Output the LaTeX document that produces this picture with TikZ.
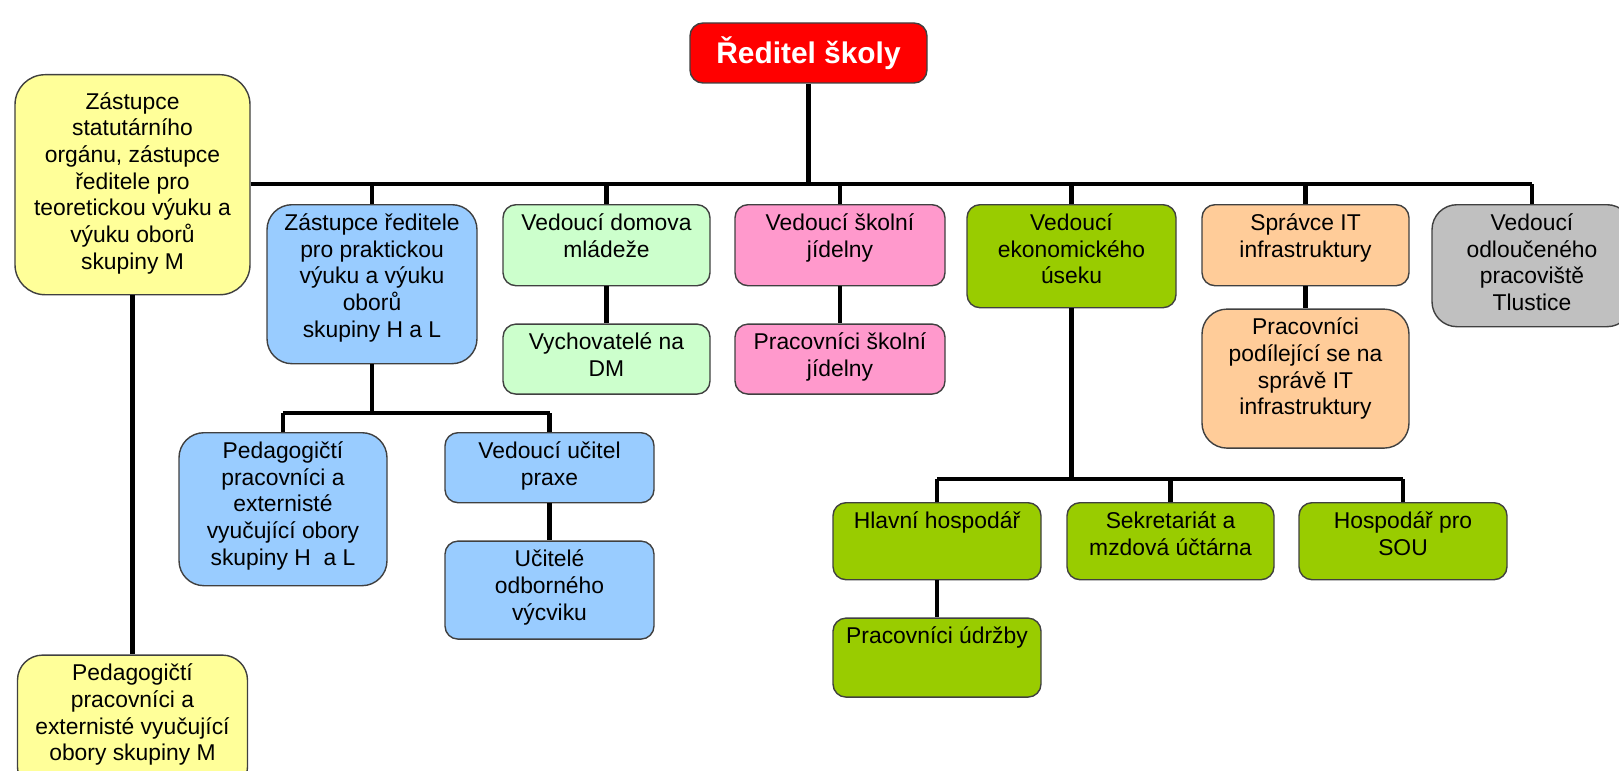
\documentclass[tikz,border=0pt]{standalone}
\usepackage{fontspec}
\setmainfont{Liberation Sans}
\usetikzlibrary{positioning}
\definecolor{headred}{HTML}{FF0000}
\definecolor{pale}{HTML}{FFFF99}
\definecolor{sky}{HTML}{99CCFF}
\definecolor{mint}{HTML}{CCFFCC}
\definecolor{rose}{HTML}{FF99CC}
\definecolor{econ}{HTML}{99CC00}
\definecolor{peach}{HTML}{FFCC99}
\definecolor{silver}{HTML}{C0C0C0}
\newcommand{\boxfont}{\fontsize{13}{15.2}\selectfont}
\tikzset{
  box/.style={draw=black!75,line width=0.8pt,rounded corners=0.26cm,inner sep=0pt,anchor=north,font=\boxfont},
  tall/.style={rounded corners=0.5cm},
  boxsize/.style 2 args={minimum width=#1,minimum height=#2,
    execute at begin node={\begin{minipage}[c][#2][t]{#1}\centering\vspace*{5pt}},
    execute at end node={\end{minipage}}},
  head/.style={draw=black!75,line width=0.8pt,rounded corners=0.26cm,fill=headred,text=white,
    font=\bfseries\fontsize{17}{20}\selectfont,minimum width=4.74cm,minimum height=1.2cm},
  wire/.style={line width=2.4pt},
}

\begin{document}
\begin{tikzpicture}
  \useasboundingbox (0,0) rectangle (32.38,15.4);
  \clip (0,0) rectangle (32.38,15.4);
  \node[head] (dir) at (16.17,14.34) {Ředitel školy};
  \coordinate (bus) at (0,11.72);
  % deputy for theory
  \node[box,tall,rounded corners=0.6cm,fill=pale,boxsize={4.7cm}{4.4cm}] (zt) at (2.65,13.92)
    {\vspace*{5pt}Zástupce\\statutárního\\orgánu, zástupce\\ředitele pro\\teoretickou výuku a\\výuku oborů\\skupiny M};
  \node[box,tall,fill=pale,boxsize={4.6cm}{2.74cm},below=7.18cm of zt] (pm)
    {Pedagogičtí\\pracovníci a\\externisté vyučující\\obory skupiny M};
  % top row
  \node[box,tall,fill=sky,boxsize={4.2cm}{3.18cm}] (zp) at (7.44,11.32)
    {Zástupce ředitele\\pro praktickou\\výuku a výuku\\oborů\\skupiny H a L};
  \node[box,fill=mint,boxsize={4.14cm}{1.62cm}] (vd) at (12.13,11.32) {Vedoucí domova\\mládeže};
  \node[box,fill=rose,boxsize={4.2cm}{1.62cm}] (vj) at (16.8,11.32) {Vedoucí školní\\jídelny};
  \node[box,fill=econ,boxsize={4.18cm}{2.06cm}] (ve) at (21.43,11.32) {Vedoucí\\ekonomického\\úseku};
  \node[box,fill=peach,boxsize={4.14cm}{1.62cm}] (it) at (26.11,11.32) {Správce IT\\infrastruktury};
  \node[box,tall,fill=silver,boxsize={4.0cm}{2.44cm}] (vo) at (30.64,11.32)
    {Vedoucí\\odloučeného\\pracoviště\\Tlustice};
  % second row
  \node[box,fill=mint,boxsize={4.14cm}{1.4cm},below=0.74cm of vd] (vy) {Vychovatelé na\\DM};
  \node[box,fill=rose,boxsize={4.2cm}{1.4cm},below=0.74cm of vj] (pj) {Pracovníci školní\\jídelny};
  \node[box,tall,fill=peach,boxsize={4.14cm}{2.78cm},below=0.44cm of it] (pi)
    {Pracovníci\\podílející se na\\správě IT\\infrastruktury};
  % practical teaching
  \node[box,tall,fill=sky,boxsize={4.16cm}{3.06cm}] (pp) at (5.66,6.76)
    {Pedagogičtí\\pracovníci a\\externisté\\vyučující obory\\skupiny H~ a L};
  \node[box,fill=sky,boxsize={4.18cm}{1.4cm}] (vu) at (10.99,6.76) {Vedoucí učitel\\praxe};
  \node[box,fill=sky,boxsize={4.18cm}{1.96cm},below=0.74cm of vu] (uv) {Učitelé\\odborného\\výcviku};
  % economy
  \node[box,fill=econ,boxsize={4.16cm}{1.54cm}] (hh) at (18.74,5.36) {Hlavní hospodář};
  \node[box,fill=econ,boxsize={4.14cm}{1.54cm}] (sm) at (23.41,5.36) {Sekretariát a\\mzdová účtárna};
  \node[box,fill=econ,boxsize={4.16cm}{1.54cm}] (hs) at (28.06,5.36) {Hospodář pro\\SOU};
  \node[box,fill=econ,boxsize={4.16cm}{1.58cm},below=0.74cm of hh] (pu) {Pracovníci údržby};
  \coordinate (b1) at (0,7.14);
  \coordinate (b2) at (0,5.82);

  \draw[wire] (dir.south) -- (dir.south |- bus);
  \draw[wire] (zt.east |- bus) -- (vo.north |- bus);
  \foreach \n in {zp,vd,vj,ve,it,vo}
    \draw[wire] (\n.north) -- (\n.north |- bus);
  \draw[wire] (zt) -- (pm);
  \draw[wire] (vd) -- (vy);
  \draw[wire] (vj) -- (pj);
  \draw[wire] (it) -- (pi);
  \draw[wire] (zp.south) -- (zp.south |- b1);
  \draw[wire] (pp.north |- b1) -- (vu.north |- b1);
  \foreach \n in {pp,vu}
    \draw[wire] (\n.north) -- (\n.north |- b1);
  \draw[wire] (vu) -- (uv);
  \draw[wire] (ve.south) -- (ve.south |- b2);
  \draw[wire] (hh.north |- b2) -- (hs.north |- b2);
  \foreach \n in {hh,sm,hs}
    \draw[wire] (\n.north) -- (\n.north |- b2);
  \draw[wire] (hh) -- (pu);
\end{tikzpicture}
\end{document}
